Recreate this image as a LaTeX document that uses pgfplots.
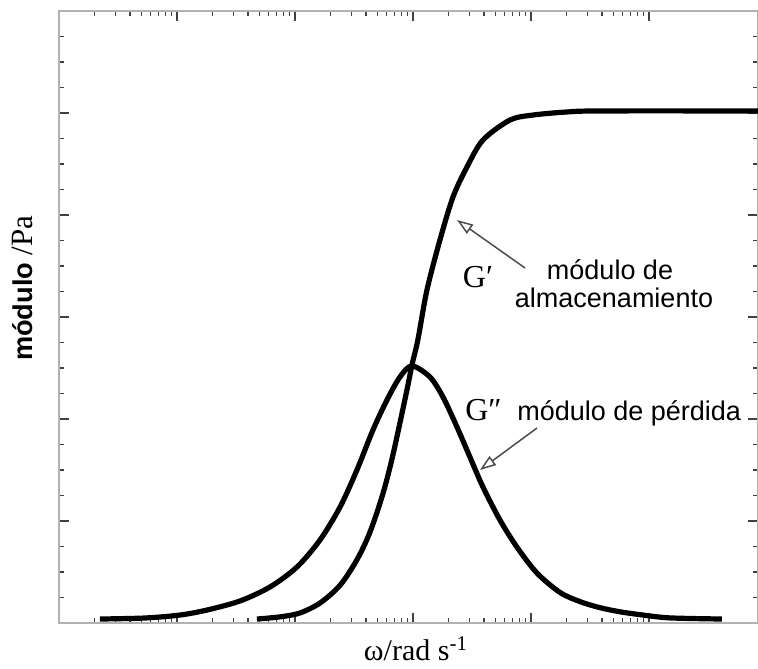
\documentclass[border=0pt]{standalone}
\usepackage{fontspec}
\setmainfont{Liberation Serif}
\setsansfont{Liberation Sans}
\usepackage{pgfplots}
\pgfplotsset{compat=1.18}
\usetikzlibrary{arrows.meta}

\begin{document}
\begin{tikzpicture}
\begin{semilogxaxis}[
    name=ax,
    scale only axis,
    width=349.5pt,
    height=306pt,
    xmin=1e-3, xmax=840,
    ymin=0, ymax=6,
    xtick={1e-3,1e-2,1e-1,1,10,100},
    ytick={0,1,2,3,4,5,6},
    minor y tick num=3,
    xticklabels={}, yticklabels={},
    major tick length=5pt,
    minor tick length=2.5pt,
    axis line style={gray!60, line width=1pt},
    tick style={black!75, line width=0.6pt},
    clip mode=individual,
]
% G'' (perdida)
\addplot[black, line width=2.6pt, smooth, tension=0.5] coordinates {
    (0.00222,0.039) (0.00536,0.049) (0.0106,0.078) (0.01795,0.127)
    (0.0342,0.216) (0.0614,0.353) (0.104,0.549) (0.163,0.814)
    (0.241,1.137) (0.335,1.50) (0.458,1.892) (0.602,2.186)
    (0.776,2.412) (0.98,2.52) (1.393,2.412) (1.796,2.216)
    (2.36,1.922) (3.04,1.627) (3.92,1.333) (5.46,1.010)
    (7.60,0.745) (11.24,0.490) (17.6,0.30) (26.0,0.21)
    (38.5,0.15) (56.8,0.11) (88.9,0.078) (150.6,0.05) (415.6,0.039)
};
% G' (almacenamiento)
\addplot[black, line width=2.6pt, smooth, tension=0.5] coordinates {
    (0.0476,0.039) (0.0746,0.06) (0.110,0.098) (0.163,0.196)
    (0.241,0.37) (0.335,0.62) (0.432,0.89) (0.557,1.27)
    (0.677,1.65) (0.889,2.284) (0.98,2.529) (1.10,2.775)
    (1.314,3.265) (1.693,3.755) (2.183,4.176) (2.87,4.471)
    (3.92,4.735) (6.64,4.931) (10.4,4.98) (20.2,5.01) (38.5,5.02) (840,5.02)
};
\draw[gray!60!black, line width=0.75pt, -{Triangle[open, length=8pt, width=5.5pt]}]
    (rel axis cs:0.6667,0.5801) -- (rel axis cs:0.5694,0.6585);
\draw[gray!60!black, line width=0.75pt, -{Triangle[open, length=8pt, width=5.5pt]}]
    (rel axis cs:0.6838,0.3186) -- (rel axis cs:0.6023,0.25);
\node[anchor=base, font=\fontsize{16}{16}\selectfont] at (rel axis cs:0.5994,0.549) {G′};
\node[anchor=base, font=\sffamily\fontsize{13.5}{14}\selectfont] at (rel axis cs:0.7883,0.5605) {módulo de};
\node[anchor=base, font=\sffamily\fontsize{13.5}{14}\selectfont] at (rel axis cs:0.794,0.5152) {almacenamiento};
\node[anchor=base west, inner sep=0pt, font=\fontsize{16}{16}\selectfont] at (rel axis cs:0.5808,0.3317) {G″};
\node[anchor=base west, inner sep=0pt, font=\sffamily\fontsize{13.5}{14}\selectfont] at (rel axis cs:0.6552,0.3317) {módulo de pérdida};
\node[anchor=base, rotate=90, inner sep=0pt] at (rel axis cs:-0.0386,0.5469)
    {\sffamily\bfseries\fontsize{13.6}{14}\selectfont módulo \rmfamily\mdseries\fontsize{15.5}{16}\selectfont/Pa};
\node[anchor=base, inner sep=0pt, font=\fontsize{15}{16}\selectfont] at (rel axis cs:0.5107,-0.0620)
    {ω/rad s\textsuperscript{-1}};
\end{semilogxaxis}
\pgfresetboundingbox
\path[use as bounding box] ([shift={(-29.5pt,-22.5pt)}]ax.south west) rectangle ([shift={(0pt,5.5pt)}]ax.north east);
\end{tikzpicture}
\end{document}
